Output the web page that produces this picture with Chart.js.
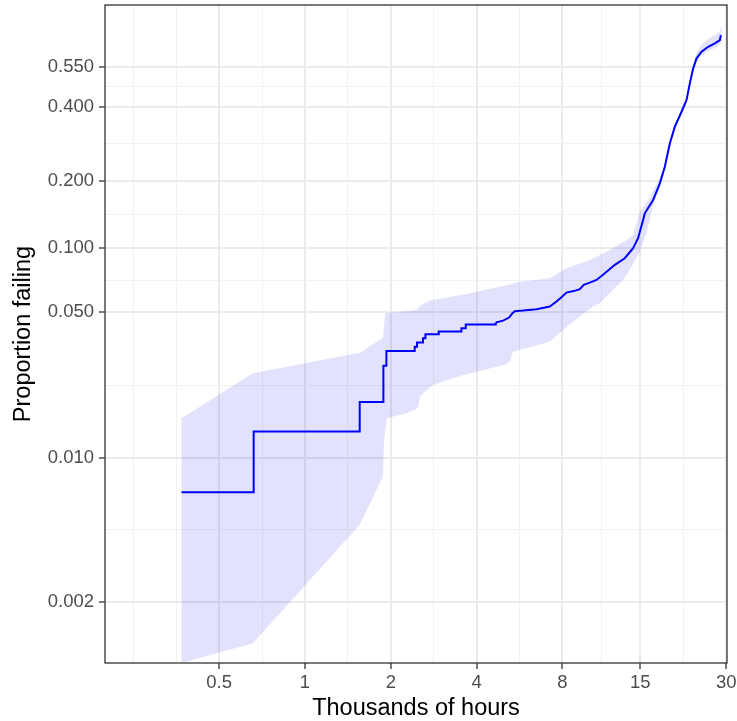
<!DOCTYPE html>
<html>
<head>
<meta charset="utf-8">
<script src="https://cdn.jsdelivr.net/npm/chart.js@4/dist/chart.umd.min.js"></script>
<style>
  html, body { margin: 0; padding: 0; background: #ffffff; }
  canvas { display: block; }
</style>
</head>
<body>
<canvas id="failChart" width="737" height="721"></canvas>
<script>
// nonparametric estimate, early part drawn as steps (thousands of hours, proportion)
const earlyTimes = [0.369, 0.661, 1.556, 1.884, 1.930, 2.426, 2.472, 2.594, 2.645, 2.945, 3.538, 3.663, 4.668];
const earlyProp  = [0.00682, 0.0134, 0.0186, 0.0278, 0.0327, 0.0343, 0.0359, 0.0376, 0.0393, 0.0405, 0.0420, 0.0437, 0.0447];

// dense later part
const lateTimes = [4.668, 4.951, 5.197, 5.342, 5.442, 5.819, 6.485, 7.22, 7.62, 7.935, 8.262, 8.835, 9.20, 9.50,
  9.975, 10.53, 11.10, 12.21, 13.23, 14.15, 14.73, 15.34, 15.55, 16.63, 17.56, 18.28, 19.04, 19.82, 20.92,
  21.78, 22.37, 22.98, 23.62, 24.59, 25.94, 27.38, 28.51, 28.74];
const lateProp = [0.0447, 0.0456, 0.0472, 0.0495, 0.0506, 0.0509, 0.0517, 0.0532, 0.0562, 0.0589, 0.0619, 0.0631,
  0.0642, 0.0673, 0.0690, 0.0710, 0.0750, 0.0835, 0.0896, 0.0997, 0.1109, 0.1342, 0.1438, 0.1650, 0.1953,
  0.2303, 0.2883, 0.3360, 0.3838, 0.4242, 0.4859, 0.5447, 0.5853, 0.6124, 0.6329, 0.6469, 0.6605, 0.6809];

// confidence band
const upperTimes = [0.369, 0.657, 1.556, 1.878, 1.911, 2.460, 2.561, 2.739, 3.684, 5.155, 5.666, 7.22, 8.262,
  9.975, 11.72, 13.42, 14.15, 14.94, 15.98, 16.63, 17.56, 18.28, 19.04, 19.82, 20.92, 21.78, 22.37, 22.98,
  23.62, 24.59, 25.94, 27.38, 28.51, 28.97];
const upperProp = [0.01555, 0.0256, 0.0321, 0.0378, 0.0495, 0.0513, 0.0542, 0.0568, 0.0610, 0.0673, 0.0697,
  0.0723, 0.0805, 0.0880, 0.0979, 0.1088, 0.1147, 0.1458, 0.1650, 0.1826, 0.2059, 0.2364, 0.2946, 0.3443,
  0.3929, 0.4349, 0.4986, 0.5621, 0.6070, 0.6399, 0.6645, 0.6809, 0.6972, 0.7133];
const lowerTimes = [0.369, 0.657, 1.556, 1.878, 1.893, 1.940, 2.269, 2.426, 2.491, 2.526, 2.594, 2.813, 3.584,
  5.020, 5.226, 5.367, 7.22, 8.715, 10.24, 10.81, 12.38, 13.05, 13.97, 14.94, 15.77, 16.63, 17.56, 18.28,
  19.04, 19.82, 20.92, 21.78, 22.37, 22.98, 23.62, 24.59, 25.94, 27.38, 28.51, 28.97];
const lowerProp = [0.00101, 0.00126, 0.00474, 0.00812, 0.01222, 0.01555, 0.01643, 0.01705, 0.01738, 0.0197,
  0.0205, 0.0225, 0.0251, 0.0281, 0.0290, 0.0324, 0.0362, 0.0451, 0.0532, 0.0552, 0.0661, 0.0710, 0.0819,
  0.0962, 0.1168, 0.1552, 0.1882, 0.2229, 0.2810, 0.3260, 0.3729, 0.4136, 0.4719, 0.5300, 0.5702, 0.5947,
  0.6152, 0.6276, 0.6399, 0.6564];

// axis breaks
const xBreaks = [0.5, 1, 2, 4, 8, 15, 30];
const xLabels = ['0.5', '1', '2', '4', '8', '15', '30'];
const xMinorBreaks = [0.25, 0.3536, 0.7071, 1.414, 2.828, 5.657, 10.95, 21.21];
const yBreaks = [0.002, 0.01, 0.05, 0.1, 0.2, 0.4, 0.55];
const yLabels = ['0.002', '0.010', '0.050', '0.100', '0.200', '0.400', '0.550'];
const xLimits = [0.199, 30.2];
const yLimits = [0.00101, 0.798];

// log2 time axis, weibull probability axis
const tx = v => Math.log2(v);
const ty = p => Math.log(-Math.log(1 - p));

const toPoints = (xs, ys) => xs.map((x, i) => ({ x: tx(x), y: ty(ys[i]) }));

const bandPolygon = toPoints(upperTimes, upperProp)
  .concat(toPoints(lowerTimes, lowerProp).reverse());

// y minor grid sits halfway between major breaks on the transformed scale
const yMajorT = yBreaks.map(ty);
const yMinorT = [];
for (let i = 0; i < yMajorT.length - 1; i++) yMinorT.push((yMajorT[i] + yMajorT[i + 1]) / 2);

const FONT = "'Liberation Sans', Arial, Helvetica, sans-serif";

const panelBorder = {
  id: 'panelBorder',
  afterDatasetsDraw(chart) {
    const { ctx, chartArea: a } = chart;
    ctx.save();
    ctx.strokeStyle = '#333333';
    ctx.lineWidth = 1.3;
    ctx.strokeRect(a.left, a.top, a.right - a.left, a.bottom - a.top);
    ctx.restore();
  }
};

const gridColor = c => c.tick && c.tick.minor ? '#F1F1F1' : '#EBEBEB';
const gridWidth = c => c.tick && c.tick.minor ? 1 : 2;
const tickColor = c => c.tick && c.tick.minor ? 'rgba(0,0,0,0)' : '#333333';

const ctx = document.getElementById('failChart');
new Chart(ctx, {
  type: 'line',
  data: {
    datasets: [
      {
        data: bandPolygon,
        borderWidth: 0,
        pointRadius: 0,
        fill: 'shape',
        backgroundColor: 'rgba(0,0,240,0.115)',
        order: 3
      },
      {
        // horizontal run at the old level, then the jump
        data: toPoints(earlyTimes, earlyProp),
        borderColor: '#0000FF',
        borderWidth: 2,
        pointRadius: 0,
        stepped: 'before',
        fill: false,
        order: 1
      },
      {
        data: toPoints(lateTimes, lateProp),
        borderColor: '#0000FF',
        borderWidth: 2,
        pointRadius: 0,
        fill: false,
        order: 1
      }
    ]
  },
  options: {
    responsive: false,
    animation: false,
    layout: { padding: { top: 5, right: 10, left: 0, bottom: 0 } },
    plugins: { legend: { display: false }, tooltip: { enabled: false } },
    scales: {
      x: {
        type: 'linear',
        bounds: 'data',
        min: tx(xLimits[0]),
        max: tx(xLimits[1]),
        afterBuildTicks: s => {
          const major = xBreaks.map((v, i) => ({ value: tx(v), label: xLabels[i] }));
          const minor = xMinorBreaks.map(v => ({ value: tx(v), minor: true }));
          s.ticks = minor.concat(major).sort((a, b) => a.value - b.value);
        },
        afterFit: s => { s.height = 58; s.paddingLeft = 0; s.paddingRight = 0; },
        ticks: {
          autoSkip: false,
          maxRotation: 0,
          padding: 3,
          color: '#4D4D4D',
          font: { family: FONT, size: 18.5 },
          callback: function (value, index, ticks) {
            return ticks[index].minor ? '' : ticks[index].label;
          }
        },
        grid: { color: gridColor, lineWidth: gridWidth, tickColor: tickColor, tickLength: 6, tickWidth: 1.3 },
        border: { display: false },
        title: {
          display: true,
          text: 'Thousands of hours',
          color: '#000000',
          font: { family: FONT, size: 23.5, lineHeight: 1.1 },
          padding: { top: 0, bottom: 0 }
        }
      },
      y: {
        type: 'linear',
        bounds: 'data',
        min: ty(yLimits[0]),
        max: ty(yLimits[1]),
        afterBuildTicks: s => {
          const major = yBreaks.map((v, i) => ({ value: ty(v), label: yLabels[i] }));
          const minor = yMinorT.map(v => ({ value: v, minor: true }));
          s.ticks = minor.concat(major).sort((a, b) => a.value - b.value);
        },
        afterFit: s => { s.width = 105; s.paddingTop = 0; s.paddingBottom = 0; },
        ticks: {
          autoSkip: false,
          padding: 5,
          color: '#4D4D4D',
          font: { family: FONT, size: 18.5 },
          callback: function (value, index, ticks) {
            return ticks[index].minor ? '' : ticks[index].label;
          }
        },
        grid: { color: gridColor, lineWidth: gridWidth, tickColor: tickColor, tickLength: 6, tickWidth: 1.3 },
        border: { display: false },
        title: {
          display: true,
          text: 'Proportion failing',
          color: '#000000',
          font: { family: FONT, size: 23.5 },
          padding: { top: 9, bottom: 0 }
        }
      }
    }
  },
  plugins: [panelBorder]
});
</script>
</body>
</html>
